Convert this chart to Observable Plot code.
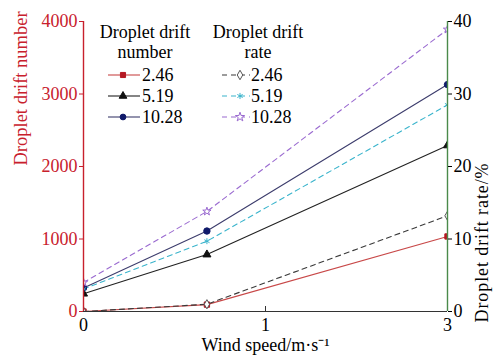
<!DOCTYPE html>
<html>
<head>
<meta charset="utf-8">
<script src="https://cdn.jsdelivr.net/npm/d3@7"></script>
<script src="https://cdn.jsdelivr.net/npm/@observablehq/plot@0.6"></script>
<style>
  html, body { margin: 0; padding: 0; background: white; }
  #wrap { position: relative; width: 493px; height: 359px; font-family: "Liberation Serif", "Times New Roman", serif; }
  #wrap svg, #wrap svg text { font-family: "Liberation Serif", "Times New Roman", serif !important; }
  #legend { position: absolute; left: 0; top: 0; pointer-events: none; }
  .rtitle text { letter-spacing: 0.9px; }
</style>
</head>
<body>
<div id="wrap"></div>
<script>
// ---- data ----
const windSpeed = [0, 0.6, 3];
const xTicks = [0, 1, 3];
const yTicksNumber = [0, 1000, 2000, 3000, 4000];
const nozzleLabels = ["2.46", "5.19", "10.28"];
const driftNumber246 = [0, 95, 1035];
const driftNumber519 = [245, 785, 2290];
const driftNumber1028 = [325, 1110, 3130];
const driftRate246 = [0, 1.0, 13.2];
const driftRate519 = [3.1, 9.7, 28.5];
const driftRate1028 = [4.0, 13.8, 38.9];

const RED = "#c8202c";
const GREEN = "#4a8a4a";
const FONT = "Liberation Serif, Times New Roman, serif";

const series = [
  {key: "n246", values: driftNumber246, scale: 1, stroke: "#c84848", mark: "square", r: 3, markFill: "#b51822", markStroke: "#b51822", dash: null},
  {key: "n519", values: driftNumber519, scale: 1, stroke: "#222", mark: "triangle", r: 3, markFill: "#111", markStroke: "#111", dash: null},
  {key: "n1028", values: driftNumber1028, scale: 1, stroke: "#3c3c6c", mark: "circle", r: 3.2, markFill: "#101a6a", markStroke: "#101a6a", dash: null},
  {key: "r246", values: driftRate246, scale: 100, stroke: "#3a3a3a", mark: "diamond", r: 2.8, markFill: "white", markStroke: "#555", dash: "5,4"},
  {key: "r519", values: driftRate519, scale: 100, stroke: "#3ab4cc", mark: "asterisk", r: 2.8, markFill: "none", markStroke: "#3ab4cc", dash: "5,4"},
  {key: "r1028", values: driftRate1028, scale: 100, stroke: "#9a6ad0", mark: "star", r: 2.6, markFill: "white", markStroke: "#9a6ad0", dash: "5,4"}
];

const lineMarks = [];
const dotMarks = [];
for (const s of series) {
  const rows = windSpeed.map((x, i) => ({x, y: s.values[i] * s.scale}));
  lineMarks.push(Plot.line(rows, {x: "x", y: "y", stroke: s.stroke, strokeWidth: 1.1, strokeDasharray: s.dash || undefined}));
  dotMarks.push(Plot.dot(rows, {x: "x", y: "y", symbol: () => s.mark, r: s.r, fill: s.markFill, stroke: s.markStroke, strokeWidth: 1, clip: true}));
}

const chart = Plot.plot({
  width: 493,
  height: 359,
  marginLeft: 83,
  marginRight: 46,
  marginTop: 21,
  marginBottom: 48,
  style: {fontFamily: FONT, fontSize: "18px", background: "white", color: "black"},
  x: {type: "symlog", domain: [0, 3]},
  y: {domain: [0, 4000]},
  marks: [
    ...lineMarks,
    ...dotMarks,
    Plot.ruleY([0], {stroke: "#333", strokeWidth: 1.2}),
    Plot.ruleX([0], {stroke: RED, strokeWidth: 1.4}),
    Plot.ruleX([3], {stroke: GREEN, strokeWidth: 1.4}),
    Plot.tickX([1], {x: d => d, insetTop: 285, stroke: "#333"}),
    Plot.axisX({ticks: xTicks, tickSize: 0, tickPadding: 7, tickFormat: d => String(d), label: null, fontSize: 18}),
    Plot.axisY({anchor: "left", ticks: yTicksNumber, tickSize: 4, tickPadding: 2, tickFormat: d => String(d), label: null, color: RED, fontSize: 18}),
    Plot.axisY({anchor: "right", ticks: yTicksNumber, tickSize: 4, tickPadding: 2, tickFormat: d => String(d / 100), label: null, color: "black", fontSize: 18}),
    Plot.text(["Droplet drift number"], {text: d => d, frameAnchor: "left", dx: -62, dy: -1, rotate: -90, fill: RED, fontSize: 18.5}),
    Plot.text(["Droplet drift rate/%"], {text: d => d, frameAnchor: "right", dx: 35, dy: -4, rotate: -90, fill: "black", fontSize: 18, className: "rtitle"}),
    Plot.text(["Wind speed/m·s⁻¹"], {text: d => d, frameAnchor: "bottom", dy: 39, fill: "black", fontSize: 18})
  ]
});

const wrap = document.getElementById("wrap");
wrap.appendChild(chart);

// ---- legend overlay ----
const lg = d3.select(wrap).append("svg").attr("id", "legend")
  .attr("width", 493).attr("height", 359)
  .style("font-size", "18px");

function title(x, lines) {
  lines.forEach((t, i) => lg.append("text").attr("x", x).attr("y", 32 + i * 20)
    .attr("text-anchor", "middle").attr("dy", "0.35em").attr("fill", "black").text(t));
}
title(145, ["Droplet drift", "number"]);
title(258, ["Droplet drift", "rate"]);

const symMap = {square: d3.symbolSquare, triangle: d3.symbolTriangle, circle: d3.symbolCircle,
  diamond: d3.symbolDiamond, asterisk: d3.symbolAsterisk, star: d3.symbolStar};
const rowY = [75, 96, 117];
series.forEach((s, k) => {
  const col = k < 3 ? 0 : 1;
  const i = k % 3;
  const y = rowY[i];
  const x0 = col === 0 ? 108 : 222;
  const x1 = col === 0 ? 140 : 250;
  const xm = col === 0 ? 123 : 240;
  const xt = col === 0 ? 142 : 251;
  lg.append("line").attr("x1", x0).attr("x2", x1).attr("y1", y).attr("y2", y)
    .attr("stroke", s.stroke).attr("stroke-width", 1.1)
    .attr("stroke-dasharray", s.dash || null);
  lg.append("path").attr("d", d3.symbol(symMap[s.mark], 26)())
    .attr("transform", `translate(${xm},${y})`)
    .attr("fill", s.markFill).attr("stroke", s.markStroke).attr("stroke-width", 1);
  lg.append("text").attr("x", xt).attr("y", y).attr("dy", "0.35em").attr("fill", "black").text(nozzleLabels[i]);
});
</script>
</body>
</html>
